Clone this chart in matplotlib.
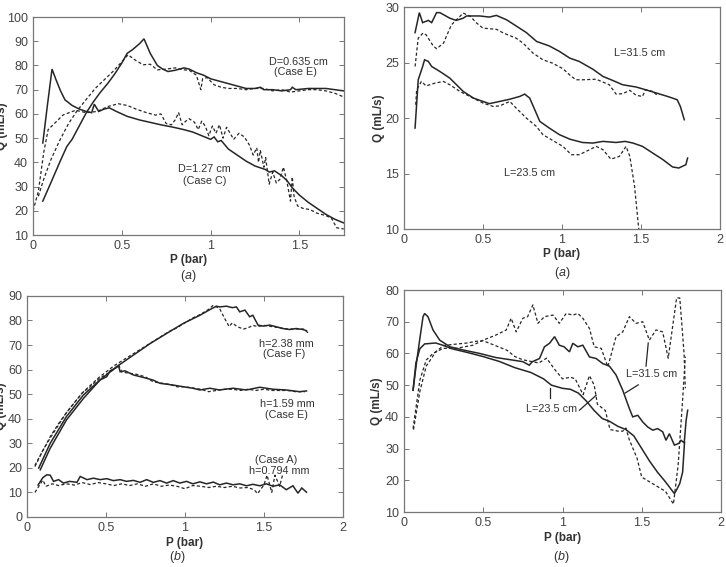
import matplotlib
matplotlib.use("Agg")
import matplotlib.pyplot as plt
from matplotlib.ticker import FormatStrFormatter

plt.rcParams['font.family'] = ['Liberation Sans', 'DejaVu Sans']
plt.rcParams['mathtext.fontset'] = 'custom'
plt.rcParams['mathtext.rm'] = 'Liberation Sans'
plt.rcParams['mathtext.it'] = 'Liberation Sans:italic'

# ---- panel (a) left: nozzle diameter ----
e_sol_p = [0.055, 0.10, 0.15, 0.19, 0.22, 0.26, 0.30, 0.34, 0.38, 0.42, 0.46, 0.50, 0.53, 0.56, 0.60, 0.625,
           0.66, 0.70, 0.73, 0.76, 0.80, 0.85, 0.88, 0.92, 0.96, 1.00, 1.05, 1.10, 1.15, 1.20, 1.25, 1.28,
           1.30, 1.35, 1.40, 1.45, 1.46, 1.48, 1.55, 1.60, 1.65, 1.70, 1.75]
e_sol_q = [24, 31.5, 40, 46.5, 49.5, 55, 60.5, 65, 69, 72.5, 76.5, 81, 85, 86.5, 89, 91,
           85, 80, 78.5, 77.5, 78, 79, 78.5, 77, 76, 74.5, 73.5, 72.5, 71.5, 70.5, 70.5, 71,
           70, 70, 69.5, 70, 71, 70, 70.5, 70.5, 70.5, 70, 69.5]
e_dash_p = [0.03, 0.06, 0.10, 0.15, 0.20, 0.25, 0.30, 0.35, 0.40, 0.45, 0.50, 0.535, 0.58, 0.62, 0.66,
            0.70, 0.75, 0.80, 0.85, 0.88, 0.92, 0.945, 0.955, 0.98, 1.02, 1.06, 1.10, 1.15, 1.20, 1.25,
            1.30, 1.35, 1.40, 1.45, 1.50, 1.55, 1.60, 1.65, 1.70, 1.75]
e_dash_q = [26, 33, 41, 49, 56, 61.5, 66, 70.5, 74, 77.5, 81.5, 84.4, 82, 80.3, 80.5,
            78.2, 78.5, 79, 78.2, 78, 76, 70, 74.5, 75, 72, 71, 70.5, 70.5, 70, 70.5,
            70.5, 69.5, 70, 69, 69.5, 70, 70, 69.5, 68.5, 67]
c_sol_p = [0.055, 0.08, 0.107, 0.13, 0.155, 0.18, 0.22, 0.26, 0.30, 0.33, 0.345, 0.37, 0.40, 0.43,
           0.47, 0.53, 0.60, 0.66, 0.72, 0.79, 0.85, 0.90, 0.95, 1.00, 1.02, 1.04, 1.06, 1.10, 1.15,
           1.20, 1.25, 1.29, 1.31, 1.33, 1.36, 1.40, 1.43, 1.46, 1.50, 1.55, 1.60, 1.65, 1.70, 1.75]
c_sol_q = [48, 63, 78.5, 74, 69.5, 65.8, 63.5, 62, 61, 60.5, 64, 61, 62, 62.5,
           61, 59, 57.5, 56.5, 55.5, 54.5, 53.5, 52.5, 51, 49.5, 50.5, 48.5, 49, 45.5, 43,
           40.5, 38.5, 37.5, 37, 36, 36.5, 34.5, 32.5, 29.5, 26.5, 23.5, 21, 18.5, 16.5, 15]
c_dash_p = [0.0, 0.03, 0.06, 0.085, 0.12, 0.17, 0.24, 0.30, 0.36, 0.42, 0.48, 0.53, 0.58, 0.64, 0.69,
            0.72, 0.75, 0.78, 0.80, 0.82, 0.84, 0.86, 0.88, 0.91, 0.93, 0.95, 0.97, 0.99, 1.01, 1.03,
            1.05, 1.07, 1.09, 1.11, 1.13, 1.16, 1.19, 1.22, 1.24, 1.26, 1.27, 1.28, 1.30, 1.31, 1.33,
            1.35, 1.37, 1.39, 1.41, 1.43, 1.45, 1.46, 1.47, 1.49, 1.52, 1.56, 1.60, 1.65, 1.68, 1.71, 1.75]
c_dash_q = [20, 28, 44, 53.5, 56, 59.6, 61.5, 60.5, 61, 63, 64.2, 63.5, 62, 60.5, 59.5,
            60, 56, 55.5, 57.5, 60.5, 55.5, 57, 58, 56.5, 53.5, 57, 55, 51, 55, 52,
            55.5, 50, 54.5, 52, 49.5, 52, 50.5, 47, 43, 46, 40, 45, 38, 42, 31,
            36, 31.5, 33, 38, 32, 24, 34, 26, 22, 21, 20.5, 19, 18, 17, 13, 12.5]

# ---- panel (a) right: length ----
l31_sol_p = [0.07, 0.097, 0.118, 0.154, 0.175, 0.206, 0.227, 0.29, 0.33, 0.375, 0.396, 0.48, 0.54, 0.585,
             0.65, 0.71, 0.775, 0.84, 0.92, 0.985, 1.05, 1.11, 1.196, 1.26, 1.32, 1.385, 1.47, 1.53,
             1.60, 1.68, 1.73, 1.75, 1.775]
l31_sol_q = [27.7, 29.5, 28.6, 28.8, 28.6, 29.5, 29.5, 29.0, 28.8, 29.0, 29.2, 29.2, 29.1, 29.25,
             28.85, 28.3, 27.7, 26.9, 26.5, 26.0, 25.4, 25.1, 24.4, 23.75, 23.4, 23.0, 22.8, 22.55,
             22.25, 21.9, 21.65, 21.05, 19.85]
l31_dash_p = [0.07, 0.09, 0.12, 0.14, 0.185, 0.206, 0.25, 0.30, 0.375, 0.42, 0.46, 0.50, 0.585, 0.63,
              0.71, 0.754, 0.817, 0.88, 0.94, 1.006, 1.06, 1.09, 1.13, 1.217, 1.30, 1.343, 1.385,
              1.43, 1.47, 1.51, 1.53, 1.575, 1.60]
l31_dash_q = [24.65, 27.2, 27.66, 27.5, 26.5, 26.25, 26.75, 28.4, 29.46, 29.16, 28.56, 28.1, 28.0, 27.66,
              27.2, 26.75, 25.85, 25.25, 24.95, 24.45, 23.75, 23.45, 23.45, 23.5, 23.0, 22.16, 22.2,
              22.5, 22.05, 21.95, 22.55, 22.4, 22.1]
l23_sol_p = [0.07, 0.09, 0.118, 0.13, 0.154, 0.175, 0.227, 0.29, 0.375, 0.44, 0.50, 0.54, 0.606, 0.67,
             0.733, 0.764, 0.796, 0.86, 0.92, 0.985, 1.05, 1.13, 1.196, 1.26, 1.343, 1.40, 1.45, 1.51,
             1.575, 1.64, 1.70, 1.74, 1.785, 1.796]
l23_sol_q = [19.1, 23.45, 24.65, 25.25, 25.1, 24.65, 24.2, 23.6, 22.4, 21.8, 21.5, 21.3, 21.5, 21.7,
             21.95, 22.16, 21.8, 19.7, 19.1, 18.5, 18.1, 17.8, 17.75, 17.9, 17.8, 17.9, 17.75, 17.45,
             16.85, 16.25, 15.6, 15.5, 15.8, 16.4]
l23_dash_p = [0.074, 0.08, 0.11, 0.14, 0.196, 0.25, 0.29, 0.354, 0.417, 0.50, 0.565, 0.606, 0.67, 0.71,
              0.775, 0.838, 0.88, 0.94, 1.006, 1.06, 1.11, 1.175, 1.217, 1.26, 1.31, 1.364, 1.406,
              1.43, 1.46, 1.49]
l23_dash_q = [21.2, 22.55, 23.3, 22.9, 23.15, 23.3, 23.0, 22.4, 21.95, 21.35, 21.05, 21.1, 21.5, 20.9,
              20.0, 19.25, 18.5, 18.0, 17.45, 16.7, 16.7, 17.15, 17.45, 17.15, 16.3, 16.55, 17.45,
              16.55, 13.85, 9.5]

# ---- panel (b) left: gap height ----
f_sol_p = [0.074, 0.147, 0.25, 0.358, 0.463, 0.568, 0.674, 0.78, 0.884, 0.99, 1.095, 1.158, 1.20, 1.22,
           1.263, 1.30, 1.326, 1.347, 1.38, 1.41, 1.43, 1.463, 1.495, 1.537, 1.58, 1.62, 1.663, 1.705,
           1.747, 1.77]
f_sol_q = [19.9, 30.0, 40.9, 49.7, 55.8, 61.2, 65.9, 70.6, 74.7, 78.8, 82.1, 84.4, 85.8, 85.5,
           85.8, 85.2, 85.5, 83.5, 84.2, 81.5, 82.1, 78.1, 77.7, 78.1, 77.4, 76.7, 76.3, 76.7,
           76.3, 75.8]
f_dash_p = [0.05, 0.10, 0.15, 0.20, 0.25, 0.30, 0.35, 0.40, 0.45, 0.50, 0.55, 0.60, 0.65, 0.70, 0.75,
            0.80, 0.85, 0.90, 0.95, 1.00, 1.05, 1.10, 1.15, 1.18, 1.22, 1.25, 1.28, 1.30, 1.33, 1.37,
            1.40, 1.43, 1.46, 1.50, 1.55, 1.60, 1.65, 1.70, 1.75, 1.78]
f_dash_q = [21, 27, 32.5, 37.5, 42.5, 46.5, 50.5, 53.5, 56.5, 59, 61.5, 63.5, 65.5, 67.5, 69.5,
            71.5, 73.5, 75.5, 77, 79, 81, 82.5, 84.5, 86.2, 84.8, 81, 77.5, 79, 77.5, 76.5,
            77, 78, 77.5, 78, 77.5, 77, 76.5, 76.5, 76.5, 75]
he_sol_p = [0.084, 0.147, 0.25, 0.358, 0.463, 0.505, 0.526, 0.558, 0.58, 0.59, 0.62, 0.674, 0.737,
            0.80, 0.842, 0.926, 0.99, 1.05, 1.095, 1.158, 1.22, 1.305, 1.39, 1.474, 1.558, 1.64,
            1.726, 1.77]
he_sol_q = [19.2, 28, 39.5, 48.3, 55.8, 57.1, 59.5, 60.5, 61.4, 59.1, 59.5, 57.8, 56.8,
            55.7, 54.4, 53.7, 53.0, 52.4, 51.7, 52.4, 51.7, 52.4, 51.7, 52.8, 52.0, 51.7,
            51.0, 51.3]
he_dash_p = [0.05, 0.10, 0.15, 0.20, 0.25, 0.30, 0.35, 0.40, 0.45, 0.50, 0.55, 0.58, 0.60, 0.65, 0.70,
             0.75, 0.80, 0.85, 0.90, 0.95, 1.00, 1.05, 1.10, 1.15, 1.20, 1.25, 1.30, 1.35, 1.40,
             1.45, 1.50, 1.55, 1.60, 1.65, 1.70, 1.76]
he_dash_q = [20.5, 27, 33, 38, 42.5, 46.5, 50.5, 53, 56, 58, 60, 62, 59, 58.5, 58,
             57, 55, 54.5, 54, 53, 53, 52.5, 52, 51, 51.5, 52, 52, 51.5, 52,
             51.5, 52, 51.5, 51.5, 51.5, 51, 51]
a_sol_p = [0.07, 0.10, 0.126, 0.147, 0.168, 0.20, 0.23, 0.27, 0.316, 0.337, 0.38, 0.42, 0.463, 0.505,
           0.547, 0.59, 0.63, 0.674, 0.716, 0.758, 0.80, 0.842, 0.884, 0.926, 0.968, 1.01, 1.05,
           1.095, 1.137, 1.18, 1.22, 1.263, 1.305, 1.347, 1.39, 1.43, 1.474, 1.516, 1.558, 1.60,
           1.642, 1.684, 1.716, 1.74, 1.77]
a_sol_q = [13, 16, 17.2, 17.0, 14.5, 15.2, 13.8, 14.5, 14.1, 16.5, 15.2, 15.8, 15.2, 15.6,
           14.8, 15.2, 14.5, 14.9, 14.1, 15.2, 14.1, 14.8, 13.8, 14.8, 13.8, 14.5, 13.5,
           14.3, 13.5, 14.2, 13.1, 13.8, 13.1, 13.5, 12.7, 13.3, 12.7, 13.5, 12.5, 13.1,
           11.1, 12.7, 9.7, 11.8, 10.1]
a_dash_p = [0.05, 0.10, 0.12, 0.16, 0.20, 0.25, 0.30, 0.35, 0.40, 0.45, 0.50, 0.55, 0.60, 0.65, 0.70,
            0.75, 0.80, 0.85, 0.90, 0.95, 1.00, 1.05, 1.10, 1.15, 1.20, 1.25, 1.30, 1.35, 1.40,
            1.44, 1.46, 1.50, 1.52, 1.55, 1.57, 1.60, 1.62]
a_dash_q = [10, 15, 12.5, 13.5, 12.8, 13.5, 13, 14, 13.2, 14, 13.5, 12.8, 13.5, 12.8, 13.5,
            12.5, 13.5, 12.5, 13, 12.5, 11.5, 12.8, 12.5, 12, 12.5, 12, 12.5, 11.8, 12,
            11, 9.5, 13, 17, 10, 17, 12.5, 17.5]

# ---- panel (b) right: length ----
b31_sol_p = [0.057, 0.078, 0.10, 0.12, 0.13, 0.151, 0.183, 0.225, 0.29, 0.372, 0.477, 0.58, 0.687,
             0.75, 0.79, 0.81, 0.855, 0.886, 0.918, 0.95, 0.98, 1.01, 1.044, 1.065, 1.097, 1.128,
             1.17, 1.212, 1.254, 1.296, 1.338, 1.38, 1.422, 1.443, 1.475, 1.506, 1.538, 1.57, 1.60,
             1.632, 1.653, 1.674, 1.706, 1.733, 1.748, 1.768, 1.78, 1.79]
b31_sol_q = [48.4, 56.8, 64.7, 71.6, 72.6, 71.6, 67.4, 64.2, 62.1, 61.1, 60.0, 58.7, 57.9,
             57.4, 56.3, 57.4, 58.4, 62.1, 63.2, 65.3, 62.6, 62.1, 60.5, 63.2, 62.1, 62.6,
             58.9, 58.4, 56.8, 56.0, 53.2, 48.4, 42.6, 40.0, 40.5, 38.4, 36.8, 35.8, 36.3,
             35.3, 32.6, 34.7, 31.1, 31.6, 32.6, 31.8, 38.9, 42.1]
b31_dash_p = [0.057, 0.10, 0.14, 0.183, 0.246, 0.33, 0.435, 0.50, 0.58, 0.645, 0.676, 0.708, 0.75,
              0.78, 0.813, 0.845, 0.886, 0.94, 0.98, 1.023, 1.065, 1.097, 1.128, 1.17, 1.20, 1.244,
              1.286, 1.338, 1.38, 1.422, 1.464, 1.506, 1.548, 1.59, 1.632, 1.667, 1.72, 1.74, 1.767,
              1.775]
b31_dash_q = [36.3, 51.6, 57.9, 60.0, 61.6, 61.6, 62.6, 64.2, 65.8, 67.4, 71.1, 66.8, 71.1,
              71.6, 75.3, 69.5, 71.6, 72.1, 69.5, 72.6, 72.1, 72.6, 71.1, 67.9, 62.1, 61.6,
              55.8, 65.3, 66.8, 71.6, 69.5, 70.0, 64.2, 67.4, 66.8, 58.5, 77.5, 77.5, 60,
              49]
b23_sol_p = [0.057, 0.075, 0.10, 0.13, 0.20, 0.25, 0.30, 0.40, 0.50, 0.60, 0.70, 0.80, 0.88, 0.93,
             1.00, 1.05, 1.10, 1.15, 1.20, 1.25, 1.30, 1.35, 1.40, 1.45, 1.50, 1.55, 1.60, 1.65,
             1.706, 1.72, 1.74, 1.758, 1.77]
b23_sol_q = [48.4, 57, 61.5, 63, 63.3, 62.5, 61.5, 60.3, 59, 57.5, 55.5, 54, 52, 50,
             49, 48.7, 47.5, 45, 42, 39.5, 38.5, 37, 36, 34, 30, 26, 22.5, 19.5,
             15.8, 17, 19, 22.6, 32]
b23_dash_p = [0.06, 0.10, 0.14, 0.20, 0.25, 0.30, 0.40, 0.45, 0.50, 0.55, 0.60, 0.65, 0.70, 0.75,
              0.80, 0.85, 0.90, 0.95, 1.00, 1.05, 1.08, 1.10, 1.13, 1.17, 1.20, 1.22, 1.27, 1.30,
              1.35, 1.38, 1.40, 1.42, 1.47, 1.50, 1.55, 1.60, 1.65, 1.70, 1.73, 1.76, 1.775]
b23_dash_q = [36, 48, 56, 60.5, 62.5, 62.8, 63.3, 63.8, 64, 63, 62, 61, 59, 58,
              57.5, 57, 58.5, 55, 52, 52.5, 52, 50, 47, 53, 50, 44, 42, 36,
              35.5, 35.5, 36.5, 33, 27, 21, 19.5, 18, 16.5, 12.5, 25, 47, 59]

line_col = '#262626'
edge_col = '#777777'
tick_col = '#444444'

fig = plt.figure(figsize=(7.26, 5.67), dpi=100)
ax1 = fig.add_axes([0.0455, 0.5855, 0.428, 0.3845])
ax2 = fig.add_axes([0.5565, 0.596, 0.435, 0.3915])
ax3 = fig.add_axes([0.0372, 0.0882, 0.435, 0.39])
ax4 = fig.add_axes([0.5565, 0.097, 0.4366, 0.3915])


def sol(ax, p, q):
    ax.plot(p, q, color=line_col, lw=1.1, solid_joinstyle='miter')


def dash(ax, p, q):
    ax.plot(p, q, color=line_col, lw=0.9, linestyle=(0, (2.5, 1.8)))


def style(ax, xlim, ylim, yticks, ylab_x, xlab_y):
    ax.set_xlim(*xlim)
    ax.set_ylim(*ylim)
    ax.set_yticks(yticks)
    ax.set_xticks([t for t in [0, 0.5, 1, 1.5, 2] if t <= xlim[1]])
    ax.xaxis.set_major_formatter(FormatStrFormatter('%g'))
    ax.tick_params(direction='in', top=True, right=True, length=3.5, width=0.7,
                   color=edge_col, labelcolor=tick_col, labelsize=9)
    for s in ax.spines.values():
        s.set_color(edge_col)
        s.set_linewidth(0.9)
    ax.set_xlabel('P (bar)', fontweight='bold', fontsize=8.5, color='#333333')
    ax.set_ylabel('Q (mL/s)', fontweight='bold', fontsize=8.5, color='#333333')
    ax.yaxis.set_label_coords(ylab_x, 0.5)
    ax.xaxis.set_label_coords(0.5, xlab_y)


# (a) left
sol(ax1, e_sol_p, e_sol_q)
dash(ax1, e_dash_p, e_dash_q)
sol(ax1, c_sol_p, c_sol_q)
dash(ax1, c_dash_p, c_dash_q)
style(ax1, (0, 1.75), (10, 100), range(10, 101, 10), -0.08, -0.087)
tk = dict(fontsize=7.8, color='#333333', ha='center', va='center')
ax1.text(1.495, 81.5, 'D=0.635 cm', **tk)
ax1.text(1.48, 77.1, '(Case E)', **tk)
ax1.text(0.964, 37.2, 'D=1.27 cm', **tk)
ax1.text(0.964, 32.2, '(Case C)', **tk)

# (a) right
sol(ax2, l31_sol_p, l31_sol_q)
dash(ax2, l31_dash_p, l31_dash_q)
sol(ax2, l23_sol_p, l23_sol_q)
dash(ax2, l23_dash_p, l23_dash_q)
style(ax2, (0, 2), (10, 30), range(10, 31, 5), -0.06, -0.086)
ax2.text(1.49, 25.9, 'L=31.5 cm', **tk)
ax2.text(0.796, 15.05, 'L=23.5 cm', **tk)

# (b) left
sol(ax3, f_sol_p, f_sol_q)
dash(ax3, f_dash_p, f_dash_q)
sol(ax3, he_sol_p, he_sol_q)
dash(ax3, he_dash_p, he_dash_q)
sol(ax3, a_sol_p, a_sol_q)
dash(ax3, a_dash_p, a_dash_q)
style(ax3, (0, 2), (0, 90), range(0, 91, 10), -0.063, -0.09)
ax3.text(1.64, 70.6, 'h=2.38 mm', **tk)
ax3.text(1.63, 66.3, '(Case F)', **tk)
ax3.text(1.65, 46.0, 'h=1.59 mm', **tk)
ax3.text(1.64, 41.5, '(Case E)', **tk)
ax3.text(1.58, 23.3, '(Case A)', **tk)
ax3.text(1.60, 18.9, 'h=0.794 mm', **tk)

# (b) right
sol(ax4, b31_sol_p, b31_sol_q)
dash(ax4, b31_dash_p, b31_dash_q)
sol(ax4, b23_sol_p, b23_sol_q)
dash(ax4, b23_dash_p, b23_dash_q)
style(ax4, (0, 2), (10, 80), range(10, 81, 10), -0.066, -0.09)
ax4.text(1.56, 53.5, 'L=31.5 cm', **tk)
ax4.text(0.93, 42.4, 'L=23.5 cm', **tk)
ax4.plot([1.541, 1.527], [63.3, 56.0], color=line_col, lw=0.9)
ax4.plot([1.395, 1.478], [47.5, 50.1], color=line_col, lw=0.9)
ax4.plot([0.924, 0.924], [49.0, 45.8], color=line_col, lw=0.9)
ax4.plot([1.107, 1.212], [42.1, 46.8], color=line_col, lw=0.9)

cap = dict(fontsize=9, color='#333333', ha='center', va='center')
fig.text(0.259, 0.513, r'($\mathit{a}$)', **cap)
fig.text(0.774, 0.519, r'($\mathit{a}$)', **cap)
fig.text(0.244, 0.018, r'($\mathit{b}$)', **cap)
fig.text(0.773, 0.018, r'($\mathit{b}$)', **cap)

fig.savefig('out.png', dpi=100)
